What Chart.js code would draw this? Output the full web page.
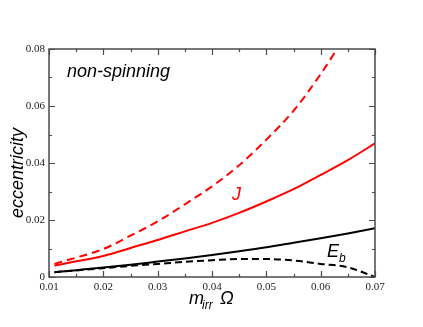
<!DOCTYPE html>
<html>
<head>
<meta charset="utf-8">
<script src="https://cdn.jsdelivr.net/npm/chart.js@4.4.0/dist/chart.umd.min.js"></script>
<style>
  body { margin: 0; background: #fff; }
  #wrap { width: 423px; height: 327px; }
</style>
</head>
<body>
<div id="wrap"><canvas id="chart" width="423" height="327"></canvas></div>
<script>
// values
const xValues = [0.011, 0.015, 0.020, 0.025, 0.030, 0.035, 0.040, 0.045, 0.050, 0.055, 0.060, 0.065, 0.070];

const jDashed  = [0.0046, 0.0068, 0.0098, 0.0145, 0.0195, 0.0255, 0.0318, 0.0392, 0.0482, 0.0583, 0.0712, 0.0860, null];
const jSolid   = [0.0040, 0.0055, 0.0074, 0.0102, 0.0130, 0.0160, 0.0190, 0.0225, 0.0265, 0.0308, 0.0358, 0.0410, 0.0469];
const ebSolid  = [0.0017, 0.0024, 0.0033, 0.0043, 0.0054, 0.0065, 0.0077, 0.0090, 0.0104, 0.0120, 0.0136, 0.0153, 0.0171];
const ebDashed = [0.0017, 0.0023, 0.0031, 0.0039, 0.0046, 0.0053, 0.0059, 0.0063, 0.0063, 0.0058, 0.0046, 0.0034, 0.0000];

const xTicks = [0.01, 0.02, 0.03, 0.04, 0.05, 0.06, 0.07];
const xTickLabels = ['0.01', '0.02', '0.03', '0.04', '0.05', '0.06', '0.07'];
const xMinor = [0.015, 0.025, 0.035, 0.045, 0.055, 0.065];
const yTicks = [0, 0.02, 0.04, 0.06, 0.08];
const yTickLabels = ['0', '0.02', '0.04', '0.06', '0.08'];
const yMinor = [0.01, 0.03, 0.05, 0.07];

function pts(ys) {
    return xValues.map((x, i) => ({ x: x, y: ys[i] }));
}

const SANS = '"Liberation Sans", Arial, sans-serif';
const SERIF = '"Liberation Serif", "Times New Roman", serif';

// frame, inward ticks and the annotations
const framePlugin = {
    id: 'frame',
    afterDatasetsDraw(chart) {
        const ctx = chart.ctx;
        const a = chart.chartArea;
        const xs = chart.scales.x, ys = chart.scales.y;
        ctx.save();
        ctx.strokeStyle = '#4a4a4a';
        ctx.lineWidth = 1.5;
        ctx.strokeRect(a.left, a.top, a.right - a.left, a.bottom - a.top);

        ctx.beginPath();
        xTicks.forEach(v => {
            const p = Math.round(xs.getPixelForValue(v)) + 0.5;
            ctx.moveTo(p, a.bottom); ctx.lineTo(p, a.bottom - 6);
            ctx.moveTo(p, a.top); ctx.lineTo(p, a.top + 6);
        });
        xMinor.forEach(v => {
            const p = Math.round(xs.getPixelForValue(v)) + 0.5;
            ctx.moveTo(p, a.bottom); ctx.lineTo(p, a.bottom - 3);
            ctx.moveTo(p, a.top); ctx.lineTo(p, a.top + 3);
        });
        yTicks.forEach(v => {
            const p = Math.round(ys.getPixelForValue(v)) + 0.5;
            ctx.moveTo(a.left, p); ctx.lineTo(a.left + 6, p);
            ctx.moveTo(a.right, p); ctx.lineTo(a.right - 6, p);
        });
        yMinor.forEach(v => {
            const p = Math.round(ys.getPixelForValue(v)) + 0.5;
            ctx.moveTo(a.left, p); ctx.lineTo(a.left + 3, p);
            ctx.moveTo(a.right, p); ctx.lineTo(a.right - 3, p);
        });
        ctx.lineWidth = 1.2;
        ctx.stroke();

        // axis titles
        ctx.fillStyle = '#000';
        ctx.textBaseline = 'alphabetic';
        ctx.save();
        ctx.translate(23, 173);
        ctx.rotate(-Math.PI / 2);
        ctx.textAlign = 'center';
        ctx.font = 'italic 18px ' + SANS;
        ctx.fillText('eccentricity', 0, 0);
        ctx.restore();

        ctx.textAlign = 'left';
        ctx.font = 'italic 18px ' + SANS;
        ctx.fillText('m', 189, 304);
        ctx.font = 'italic 12px ' + SANS;
        ctx.fillText('irr', 202, 309);
        ctx.font = 'italic 18px ' + SANS;
        ctx.fillText('\u03A9', 220, 304);

        // annotations
        ctx.fillText('non-spinning', 67, 77);
        ctx.fillStyle = '#ff0000';
        ctx.fillText('J', 232, 200);
        ctx.fillStyle = '#000';
        ctx.fillText('E', 327, 257);
        ctx.font = 'italic 12px ' + SANS;
        ctx.fillText('b', 339, 262);
        ctx.restore();
    }
};

new Chart(document.getElementById('chart'), {
    type: 'line',
    data: {
        datasets: [
            { data: pts(jDashed), borderColor: '#ff0000', borderWidth: 2, borderDash: [8, 5] },
            { data: pts(jSolid), borderColor: '#ff0000', borderWidth: 2 },
            { data: pts(ebSolid), borderColor: '#000000', borderWidth: 2 },
            { data: pts(ebDashed), borderColor: '#000000', borderWidth: 2, borderDash: [7, 4] }
        ]
    },
    options: {
        responsive: false,
        animation: false,
        elements: {
            point: { radius: 0 },
            line: { cubicInterpolationMode: 'monotone', fill: false }
        },
        layout: { padding: { top: 49, right: 48, left: 0, bottom: 0 } },
        plugins: {
            legend: { display: false },
            tooltip: { enabled: false }
        },
        scales: {
            x: {
                type: 'linear',
                min: 0.01,
                max: 0.07,
                grid: { display: false, drawTicks: false },
                border: { display: false },
                afterBuildTicks: s => { s.ticks = xTicks.map(v => ({ value: v })); },
                afterFit: s => { s.height = 50; },
                ticks: {
                    padding: 4,
                    maxRotation: 0,
                    color: '#222',
                    font: { family: SERIF, size: 11 },
                    callback: (v, i) => xTickLabels[i]
                }
            },
            y: {
                type: 'linear',
                min: 0,
                max: 0.08,
                grid: { display: false, drawTicks: false },
                border: { display: false },
                afterBuildTicks: s => { s.ticks = yTicks.map(v => ({ value: v })); },
                afterFit: s => { s.width = 49; },
                ticks: {
                    padding: 4,
                    color: '#222',
                    font: { family: SERIF, size: 11 },
                    callback: (v, i) => yTickLabels[i]
                }
            }
        }
    },
    plugins: [framePlugin]
});
</script>
</body>
</html>
